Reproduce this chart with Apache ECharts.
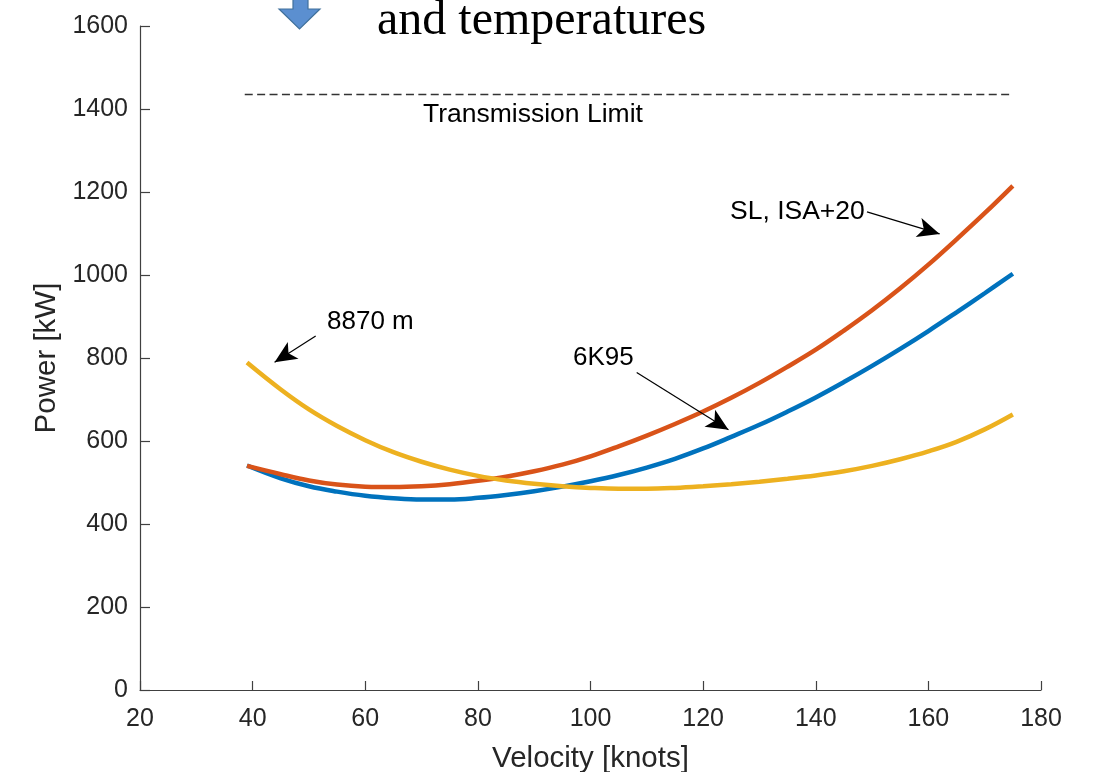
<!DOCTYPE html>
<html>
<head>
<meta charset="utf-8">
<script src="https://cdn.jsdelivr.net/npm/echarts@6/dist/echarts.min.js"></script>
<style>
  html, body { margin: 0; padding: 0; background: #fff; }
  #main { width: 1100px; height: 772px; }
</style>
</head>
<body>
<div id="main"></div>
<script>
// velocity points (knots) the curves are read at
var velocity = [39, 45, 50, 55, 60, 65, 70, 75, 80, 85, 90, 95, 100, 105, 110, 115, 120, 125, 130, 135, 140, 145, 150, 155, 160, 165, 170, 175];
// power (kW)
var power6K95 = [541, 510, 491, 478, 468, 462, 459, 459, 463, 470, 479, 490, 503, 518, 536, 557, 582, 610, 639, 671, 705, 742, 781, 822, 865, 910, 956, 1003];
var powerSL = [540, 520, 505, 495, 490, 489, 491, 496, 504, 514, 527, 543, 563, 587, 613, 641, 671, 704, 740, 779, 820, 866, 915, 968, 1025, 1086, 1149, 1215];
var power8870 = [789, 724, 676, 636, 602, 573, 550, 531, 516, 505, 497, 491, 487, 485, 485, 487, 491, 496, 502, 509, 517, 527, 540, 556, 575, 598, 628, 664];
var limitVelocity = [38.6, 175];
var limitPower = 1435;
var xTicks = [20, 180, 20];   // min, max, step
var yTicks = [0, 1600, 200];

function pairs(ys) {
    return velocity.map(function (v, i) { return [v, ys[i]]; });
}

// annotation arrows: [from, to] in data units
var arrows = [
    [[51.2, 853], [43.9, 790]],
    [[108.2, 765], [124.5, 627]],
    [[149.1, 1152], [162, 1099]]
];

var font = 'Liberation Sans, Arial, Helvetica, sans-serif';

var myChart = echarts.init(document.getElementById('main'), null, { renderer: 'canvas' });

function curve(name, ys, color) {
    return {
        name: name,
        type: 'line',
        data: pairs(ys),
        smooth: 0.4,
        showSymbol: false,
        lineStyle: { color: color, width: 4.5 }
    };
}

var option = {
    animation: false,
    backgroundColor: '#fff',
    grid: {
        left: 140,
        right: 59,
        top: 26,
        bottom: 82,
        containLabel: false,
        outerBoundsMode: 'none'
    },
    xAxis: {
        type: 'value',
        min: xTicks[0],
        max: xTicks[1],
        interval: xTicks[2],
        name: 'Velocity [knots]',
        nameLocation: 'middle',
        nameGap: 54,
        nameTextStyle: { fontFamily: font, fontSize: 29.5, color: '#262626' },
        axisLine: { lineStyle: { color: '#404040', width: 1.2 } },
        axisTick: { inside: true, length: 9, lineStyle: { color: '#404040', width: 1.2 } },
        axisLabel: { fontFamily: font, fontSize: 25, color: '#262626', margin: 17 },
        splitLine: { show: false }
    },
    yAxis: {
        type: 'value',
        min: yTicks[0],
        max: yTicks[1],
        interval: yTicks[2],
        name: 'Power [kW]',
        nameLocation: 'middle',
        nameGap: 74,
        nameTextStyle: { fontFamily: font, fontSize: 29.5, color: '#262626' },
        axisLine: { show: true, lineStyle: { color: '#404040', width: 1.2 } },
        axisTick: { show: true, inside: true, length: 10, lineStyle: { color: '#404040', width: 1.2 } },
        axisLabel: {
            fontFamily: font, fontSize: 25, color: '#262626', margin: 12,
            formatter: function (v) { return String(v); }
        },
        splitLine: { show: false }
    },
    series: [
        curve('6K95', power6K95, '#0072BD'),
        curve('SL, ISA+20', powerSL, '#D95319'),
        curve('8870 m', power8870, '#EDB120'),
        {
            name: 'Transmission Limit',
            type: 'line',
            data: limitVelocity.map(function (v) { return [v, limitPower]; }),
            showSymbol: false,
            lineStyle: { color: '#333', width: 1.3, type: [8, 4.4] },
            markLine: {
                silent: true,
                symbol: ['none', 'arrow'],
                symbolSize: [15, 22],
                label: { show: false },
                lineStyle: { color: '#000', width: 1.2, type: 'solid' },
                data: arrows.map(function (a) {
                    return [{ coord: a[0] }, { coord: a[1] }];
                })
            }
        }
    ],
    graphic: [
        {
            type: 'polygon',
            shape: { points: [[293, -2], [308, -2], [308, 9], [320, 9], [299.5, 29], [279, 9], [293, 9]] },
            style: { fill: '#5b8fd0', stroke: '#41719c', lineWidth: 1.2 }
        },
        {
            type: 'text',
            style: { x: 377, y: 21, text: 'and temperatures', fontFamily: 'Liberation Serif, Times New Roman, serif', fontSize: 48, fill: '#000', verticalAlign: 'middle' }
        },
        {
            type: 'text',
            style: { x: 423, y: 115, text: 'Transmission Limit', fontFamily: font, fontSize: 26.5, fill: '#000', verticalAlign: 'middle' }
        },
        {
            type: 'text',
            style: { x: 327, y: 322, text: '8870 m', fontFamily: font, fontSize: 26, fill: '#000', verticalAlign: 'middle' }
        },
        {
            type: 'text',
            style: { x: 573, y: 358, text: '6K95', fontFamily: font, fontSize: 26, fill: '#000', verticalAlign: 'middle' }
        },
        {
            type: 'text',
            style: { x: 730, y: 212, text: 'SL, ISA+20', fontFamily: font, fontSize: 26.5, fill: '#000', verticalAlign: 'middle' }
        }
    ]
};
myChart.setOption(option);
</script>
</body>
</html>
